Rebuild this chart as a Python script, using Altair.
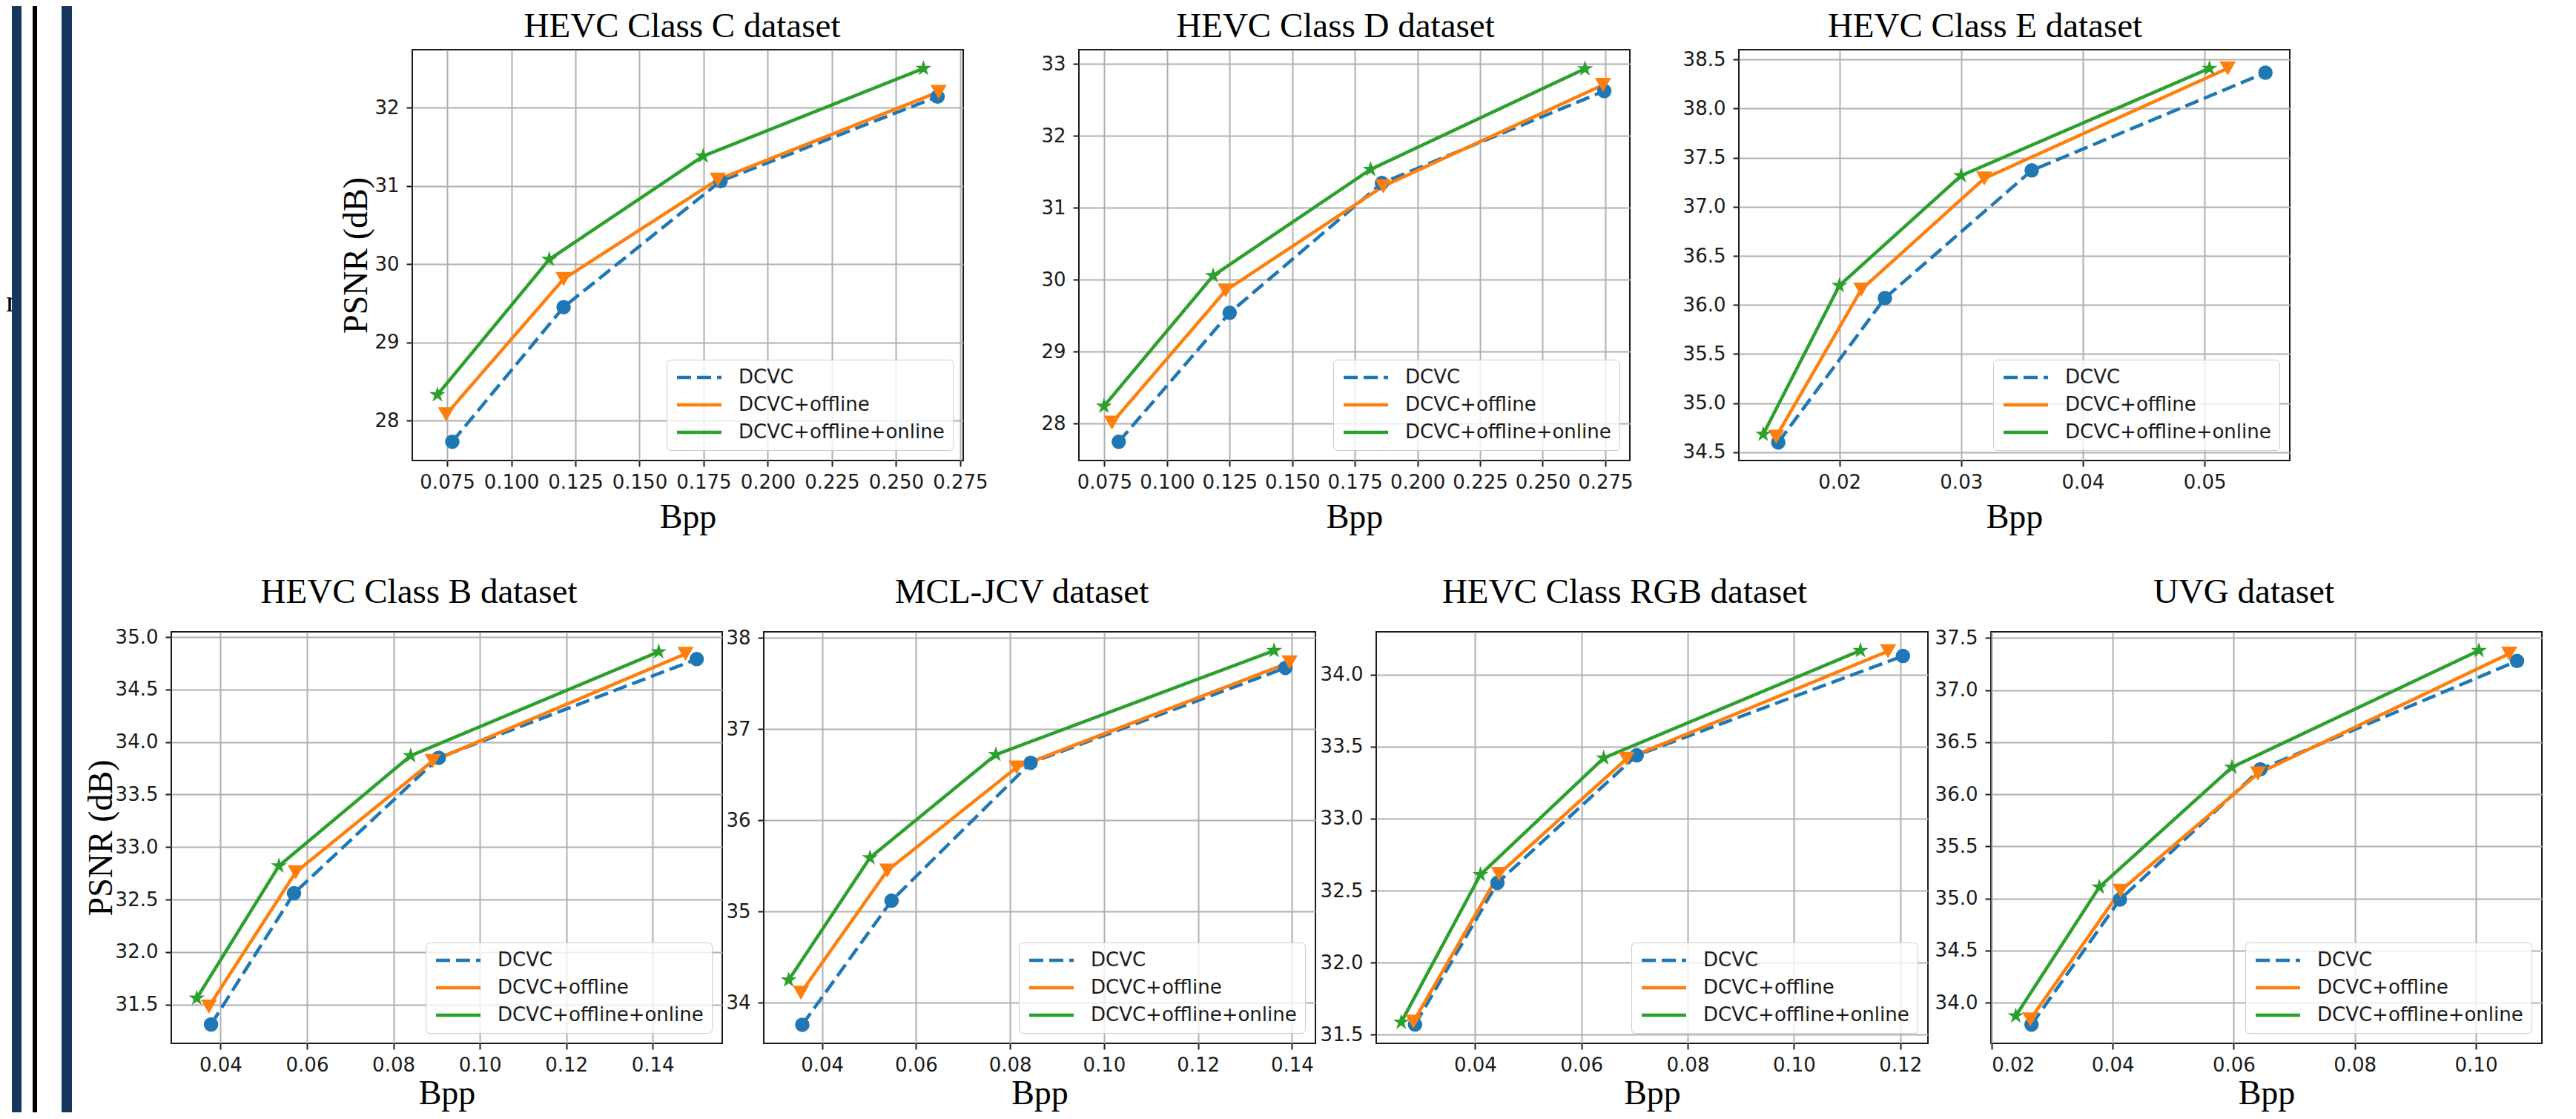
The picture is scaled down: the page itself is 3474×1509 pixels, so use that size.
import altair as alt
import pandas as pd

SERIES = ["DCVC", "DCVC+offline", "DCVC+offline+online"]
COLORS = ["#1f77b4", "#ff7f0e", "#2ca02c"]
STAR = ("M0,-1L0.2234,-0.3074L0.9511,-0.309L0.3614,0.1174L0.5878,0.809L0,0.38"
        "L-0.5878,0.809L-0.3614,0.1174L-0.9511,-0.309L-0.2234,-0.3074Z")
SHAPES = ["circle", "triangle-down", STAR]
SIZES = [380, 480, 520]
DASHES = [[19, 8], [1, 0], [1, 0]]

# ---------------- data ----------------
# HEVC Class C
C_DCVC_BPP = [0.0770, 0.1204, 0.1816, 0.2662]
C_DCVC_PSNR = [27.73, 29.45, 31.06, 32.14]
C_OFF_BPP = [0.0746, 0.1204, 0.1805, 0.2666]
C_OFF_PSNR = [28.08, 29.81, 31.08, 32.20]
C_ON_BPP = [0.0712, 0.1148, 0.1748, 0.2607]
C_ON_PSNR = [28.33, 30.06, 31.38, 32.50]
C_XTICKS = [0.075, 0.100, 0.125, 0.150, 0.175, 0.200, 0.225, 0.250, 0.275]
C_YTICKS = [28, 29, 30, 31, 32]

# HEVC Class D
D_DCVC_BPP = [0.0807, 0.1250, 0.1858, 0.2746]
D_DCVC_PSNR = [27.745, 29.54, 31.345, 32.625]
D_OFF_BPP = [0.0780, 0.1234, 0.1863, 0.2741]
D_OFF_PSNR = [28.01, 29.85, 31.30, 32.71]
D_ON_BPP = [0.0748, 0.1184, 0.1813, 0.2669]
D_ON_PSNR = [28.24, 30.055, 31.535, 32.935]
D_XTICKS = [0.075, 0.100, 0.125, 0.150, 0.175, 0.200, 0.225, 0.250, 0.275]
D_YTICKS = [28, 29, 30, 31, 32, 33]

# HEVC Class E
E_DCVC_BPP = [0.01498, 0.02374, 0.0358, 0.0550]
E_DCVC_PSNR = [34.60, 36.07, 37.37, 38.366]
E_OFF_BPP = [0.0148, 0.0218, 0.0319, 0.0519]
E_OFF_PSNR = [34.657, 36.157, 37.288, 38.41]
E_ON_BPP = [0.01374, 0.0200, 0.0300, 0.0504]
E_ON_PSNR = [34.683, 36.198, 37.317, 38.41]
E_XTICKS = [0.02, 0.03, 0.04, 0.05]
E_YTICKS = [34.5, 35.0, 35.5, 36.0, 36.5, 37.0, 37.5, 38.0, 38.5]

# HEVC Class B
B_DCVC_BPP = [0.0378, 0.0570, 0.0905, 0.1502]
B_DCVC_PSNR = [31.31, 32.56, 33.85, 34.79]
B_OFF_BPP = [0.0373, 0.0574, 0.0891, 0.1476]
B_OFF_PSNR = [31.48, 32.76, 33.82, 34.84]
B_ON_BPP = [0.0345, 0.0535, 0.0840, 0.1414]
B_ON_PSNR = [31.56, 32.82, 33.87, 34.86]
B_XTICKS = [0.04, 0.06, 0.08, 0.10, 0.12, 0.14]
B_YTICKS = [31.5, 32.0, 32.5, 33.0, 33.5, 34.0, 34.5, 35.0]

# MCL-JCV
M_DCVC_BPP = [0.0358, 0.0548, 0.0844, 0.1386]
M_DCVC_PSNR = [33.76, 35.12, 36.63, 37.67]
M_OFF_BPP = [0.0355, 0.0539, 0.0814, 0.1395]
M_OFF_PSNR = [34.11, 35.45, 36.58, 37.73]
M_ON_BPP = [0.0329, 0.0502, 0.0770, 0.1362]
M_ON_PSNR = [34.25, 35.59, 36.72, 37.86]
M_XTICKS = [0.04, 0.06, 0.08, 0.10, 0.12, 0.14]
M_YTICKS = [34, 35, 36, 37, 38]

# HEVC Class RGB
R_DCVC_BPP = [0.0287, 0.0442, 0.0704, 0.1205]
R_DCVC_PSNR = [31.57, 32.554, 33.44, 34.13]
R_OFF_BPP = [0.0284, 0.0445, 0.0685, 0.1177]
R_OFF_PSNR = [31.59, 32.616, 33.416, 34.163]
R_ON_BPP = [0.0261, 0.0410, 0.0642, 0.1125]
R_ON_PSNR = [31.586, 32.611, 33.421, 34.168]
R_XTICKS = [0.04, 0.06, 0.08, 0.10, 0.12]
R_YTICKS = [31.5, 32.0, 32.5, 33.0, 33.5, 34.0]

# UVG
U_DCVC_BPP = [0.0266, 0.0412, 0.0644, 0.1068]
U_DCVC_PSNR = [33.79, 34.99, 36.24, 37.28]
U_OFF_BPP = [0.0264, 0.0413, 0.0640, 0.1055]
U_OFF_PSNR = [33.84, 35.075, 36.20, 37.35]
U_ON_BPP = [0.0240, 0.0378, 0.0597, 0.1005]
U_ON_PSNR = [33.874, 35.11, 36.26, 37.38]
U_XTICKS = [0.02, 0.04, 0.06, 0.08, 0.10]
U_YTICKS = [34.0, 34.5, 35.0, 35.5, 36.0, 36.5, 37.0, 37.5]

SERIF = "Liberation Serif"
SANS = "DejaVu Sans"
DUMMY = pd.DataFrame({"a": [0]})


def make_df(bpps, psnrs):
    rows = []
    for s, b, p in zip(SERIES, bpps, psnrs):
        for i, (bb, pp) in enumerate(zip(b, p)):
            rows.append({"series": s, "bpp": bb, "psnr": pp, "idx": i})
    return pd.DataFrame(rows)


def panel(title, tx, bpps, psnrs, xdom, ydom, xticks, yticks, xfmt, yfmt,
          ytitle, top, w, h):
    df = make_df(bpps, psnrs)
    xpad = 12 if top else 3
    ypad = 0 if top else -5
    ty = -17 if top else -39
    x = alt.X("bpp:Q", scale=alt.Scale(domain=xdom, nice=False, zero=False),
              axis=alt.Axis(values=xticks, format=xfmt, title="Bpp",
                            titlePadding=xpad))
    y = alt.Y("psnr:Q", scale=alt.Scale(domain=ydom, nice=False, zero=False),
              axis=alt.Axis(values=yticks, format=yfmt,
                            title=ytitle if ytitle else None,
                            titlePadding=ypad))
    leg = alt.Legend(title=None, orient="bottom-right", offset=14,
                     symbolType="M-1,0L5,0", symbolSize=400,
                     symbolStrokeWidth=4.5, labelFont=SANS, labelFontSize=26,
                     labelColor="#1a1a1a", labelLimit=600, labelOffset=60,
                     padding=11, rowPadding=11,
                     fillColor="rgba(255,255,255,0.8)",
                     strokeColor="#cccccc", cornerRadius=5)
    lines = alt.Chart(df).mark_line(strokeWidth=4.5).encode(
        x=x, y=y,
        color=alt.Color("series:N", scale=alt.Scale(domain=SERIES, range=COLORS),
                        legend=leg),
        strokeDash=alt.StrokeDash("series:N",
                                  scale=alt.Scale(domain=SERIES, range=DASHES),
                                  legend=leg),
        order="idx:Q",
    )
    layers = [lines]
    for s, c, shp, sz in zip(SERIES, COLORS, SHAPES, SIZES):
        pts = alt.Chart(df[df["series"] == s]).mark_point(
            filled=True, opacity=1, color=c, shape=shp, size=sz, strokeWidth=0
        ).encode(x="bpp:Q", y="psnr:Q")
        layers.append(pts)
    ttl = alt.Chart(DUMMY).mark_text(
        text=title, font=SERIF, fontSize=47, align="center",
        baseline="alphabetic", color="#000000"
    ).encode(x=alt.value(tx), y=alt.value(ty))
    layers.append(ttl)
    return alt.layer(*layers).properties(
        width=w, height=h,
        view=alt.ViewBackground(stroke="#1a1a1a", strokeWidth=2),
    )


def spacer(w, h):
    return alt.Chart(DUMMY).mark_point(opacity=0).encode(
        x=alt.value(0), y=alt.value(0)).properties(width=w, height=h)


TW, TH = 743, 554
BH = 555

# left-edge page decoration, placed relative to the first (empty) top-row cell
NAVY = "#17375e"
Y_TOP, Y_BOT = -59, 1433
deco = alt.layer(
    alt.Chart(DUMMY).mark_rect(opacity=0).encode(
        x=alt.value(-223), x2=alt.value(-222), y=alt.value(Y_TOP), y2=alt.value(Y_TOP + 1)),
    alt.Chart(DUMMY).mark_text(text="n", font=SERIF, fontSize=42, align="left",
                               baseline="alphabetic", color="#000000").encode(
        x=alt.value(-223), y=alt.value(353)),
    alt.Chart(DUMMY).mark_rect(color=NAVY).encode(
        x=alt.value(-215), x2=alt.value(-202), y=alt.value(Y_TOP), y2=alt.value(Y_BOT)),
    alt.Chart(DUMMY).mark_rect(color="#000000").encode(
        x=alt.value(-187), x2=alt.value(-181), y=alt.value(Y_TOP), y2=alt.value(Y_BOT)),
    alt.Chart(DUMMY).mark_rect(color=NAVY).encode(
        x=alt.value(-148), x2=alt.value(-134), y=alt.value(Y_TOP), y2=alt.value(Y_BOT)),
).properties(width=298, height=TH)

pC = panel("HEVC Class C dataset", 364,
           [C_DCVC_BPP, C_OFF_BPP, C_ON_BPP], [C_DCVC_PSNR, C_OFF_PSNR, C_ON_PSNR],
           [0.0614, 0.2762], [27.49, 32.74], C_XTICKS, C_YTICKS, ".3f", "d",
           "PSNR (dB)", True, TW, TH)
pD = panel("HEVC Class D dataset", 346,
           [D_DCVC_BPP, D_OFF_BPP, D_ON_BPP], [D_DCVC_PSNR, D_OFF_PSNR, D_ON_PSNR],
           [0.0648, 0.2848], [27.485, 33.2], D_XTICKS, D_YTICKS, ".3f", "d",
           None, True, TW, TH)
pE = panel("HEVC Class E dataset", 332,
           [E_DCVC_BPP, E_OFF_BPP, E_ON_BPP], [E_DCVC_PSNR, E_OFF_PSNR, E_ON_PSNR],
           [0.01174, 0.0570], [34.416, 38.60], E_XTICKS, E_YTICKS, ".2f", ".1f",
           None, True, TW, TH)
pB = panel("HEVC Class B dataset", 334,
           [B_DCVC_BPP, B_OFF_BPP, B_ON_BPP], [B_DCVC_PSNR, B_OFF_PSNR, B_ON_PSNR],
           [0.0286, 0.1561], [31.13, 35.05], B_XTICKS, B_YTICKS, ".2f", ".1f",
           "PSNR (dB)", False, 743, BH)
pM = panel("MCL-JCV dataset", 348,
           [M_DCVC_BPP, M_OFF_BPP, M_ON_BPP], [M_DCVC_PSNR, M_OFF_PSNR, M_ON_PSNR],
           [0.0276, 0.1450], [33.556, 38.066], M_XTICKS, M_YTICKS, ".2f", "d",
           None, False, 744, BH)
pR = panel("HEVC Class RGB dataset", 335,
           [R_DCVC_BPP, R_OFF_BPP, R_ON_BPP], [R_DCVC_PSNR, R_OFF_PSNR, R_ON_PSNR],
           [0.0214, 0.1252], [31.439, 34.298], R_XTICKS, R_YTICKS, ".2f", ".1f",
           None, False, 744, BH)
pU = panel("UVG dataset", 341,
           [U_DCVC_BPP, U_OFF_BPP, U_ON_BPP], [U_DCVC_PSNR, U_OFF_PSNR, U_ON_PSNR],
           [0.0199, 0.1109], [33.61, 37.56], U_XTICKS, U_YTICKS, ".2f", ".1f",
           None, False, 743, BH)

RES = dict(color="independent", strokeDash="independent")

top_row = alt.hconcat(
    deco, pC, spacer(102, TH), pD, spacer(93, TH), pE,
    spacing=27, bounds="flush",
).resolve_scale(**RES).resolve_legend(**RES)

bottom_row = alt.hconcat(
    pB, spacer(2, BH), pM, spacer(28, BH), pR, spacer(31, BH), pU,
    spacing=27, bounds="flush",
).resolve_scale(**RES).resolve_legend(**RES)

chart = alt.vconcat(
    top_row, bottom_row, spacing=785, bounds="flush",
).resolve_scale(**RES).resolve_legend(**RES).properties(
    padding=0, background="#ffffff"
).configure_view(
    stroke=None
).configure_axis(
    labelFont=SANS, labelFontSize=26, labelColor="#1a1a1a",
    tickColor="#1a1a1a", tickWidth=2, tickSize=8, domain=False,
    grid=True, gridColor="#b0b0b0", gridWidth=2,
    titleFont=SERIF, titleFontSize=46, titleFontWeight="normal",
    titleColor="#000000",
).configure_axisX(labelPadding=8).configure_axisY(labelPadding=10)

chart.save("out.html", embed_options={"renderer": "svg", "actions": False})
